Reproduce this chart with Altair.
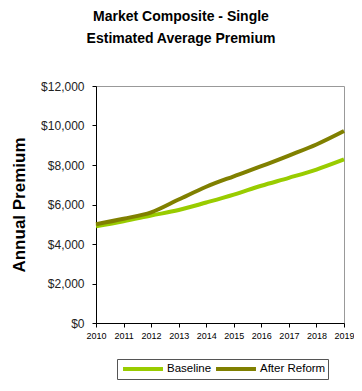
import altair as alt
import pandas as pd

years = [2010, 2011, 2012, 2013, 2014, 2015, 2016, 2017, 2018, 2019]
baseline = [4900, 5150, 5440, 5720, 6100, 6500, 6950, 7350, 7770, 8280]
after_reform = [5000, 5280, 5600, 6250, 6900, 7430, 7940, 8480, 9040, 9720]
series_names = ["Baseline", "After Reform"]
series_colors = ["#99CC00", "#808000"]

rows = []
for y, b, a in zip(years, baseline, after_reform):
    rows.append({"Year": y, "Series": "Baseline", "Premium": b})
    rows.append({"Year": y, "Series": "After Reform", "Premium": a})
df = pd.DataFrame(rows)

font = "Liberation Sans"

chart = alt.Chart(df).mark_line(strokeWidth=4, interpolate="monotone").encode(
    x=alt.X("Year:Q", scale=alt.Scale(domain=[2010, 2019], nice=False),
            axis=alt.Axis(values=years, format="d", title=None, grid=False,
                          labelFontSize=9, labelColor="#000", tickColor="#000",
                          domainColor="#000", tickSize=4, labelPadding=4,
                          labelFont=font, labelFlush=False, labelOverlap=False)),
    y=alt.Y("Premium:Q", scale=alt.Scale(domain=[0, 12000], nice=False),
            axis=alt.Axis(values=[0, 2000, 4000, 6000, 8000, 10000, 12000],
                          format="$,.0f", title="Annual Premium", grid=False,
                          labelFontSize=12, labelColor="#222", tickColor="#000",
                          domainColor="#000", tickSize=4, labelPadding=8,
                          labelFont=font, titleFont=font, titleFontSize=17,
                          titleFontWeight="bold", titleColor="#000",
                          titlePadding=12)),
    color=alt.Color("Series:N", scale=alt.Scale(domain=series_names, range=series_colors),
                    sort=series_names,
                    legend=alt.Legend(title=None, orient="none", legendX=21, legendY=273,
                                      direction="horizontal", symbolType="M-3.33,0L3.33,0",
                                      symbolSize=144, symbolStrokeWidth=4,
                                      labelFont=font, labelFontSize=11.5, labelColor="#000",
                                      strokeColor="#555", padding=2, columnPadding=-8,
                                      labelOffset=16, symbolOffset=16)),
).properties(
    width=248,
    height=237,
    autosize=alt.AutoSizeParams(type="none"),
    padding={"left": 88, "top": 78, "right": 10, "bottom": 60},
    title=alt.TitleParams(text=["Market Composite - Single", "Estimated Average Premium"],
                          font=font, fontSize=14, fontWeight="bold", color="#000",
                          anchor="middle", dx=-39, offset=34, lineHeight=22),
).configure_view(stroke="#999", strokeWidth=1)

chart.save("out.html", embed_options={"renderer": "svg", "actions": False})
